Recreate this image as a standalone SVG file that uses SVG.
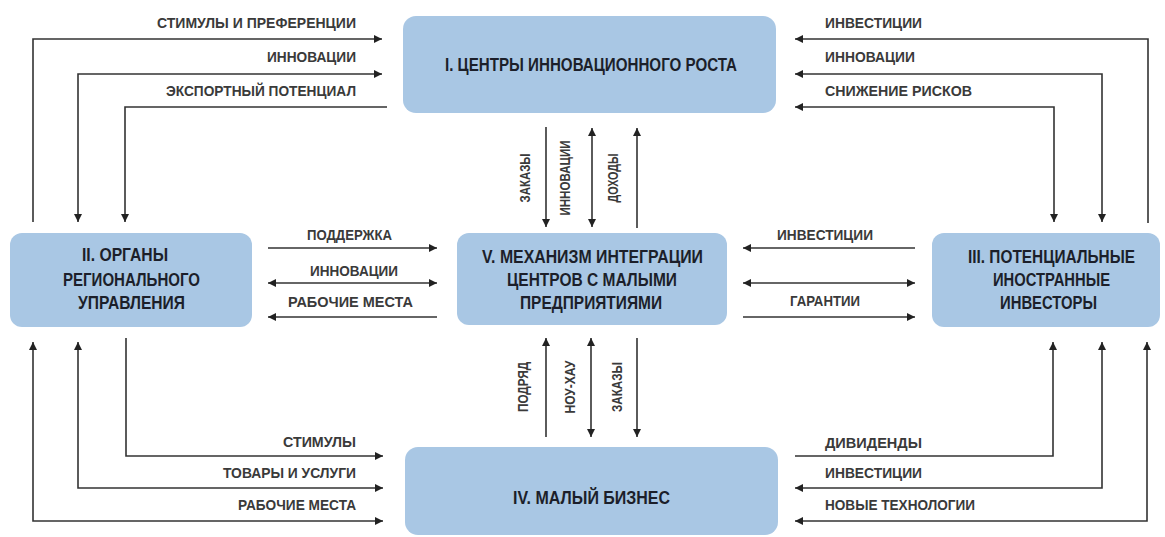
<svg xmlns="http://www.w3.org/2000/svg" width="1165" height="537" viewBox="0 0 1165 537">
<style>
.node{fill:#a9c7e4;stroke:none}
.nt{font-family:"Liberation Sans Narrow","Liberation Sans",Arial,sans-serif;font-weight:bold;font-size:17.5px;fill:#1c1f2a}
.lb{font-family:"Liberation Sans Narrow","Liberation Sans",Arial,sans-serif;font-weight:bold;font-size:14.5px;fill:#3a3a3a}
.c{fill:none;stroke:#333;stroke-width:1.6}
</style>
<defs>
<marker id="ah" viewBox="0 0 10 10" refX="10" refY="5" markerWidth="9" markerHeight="8" markerUnits="userSpaceOnUse" orient="auto-start-reverse">
<path d="M0,0 L10,5 L0,10 z" fill="#222"/>
</marker>
</defs>
<rect width="1165" height="537" fill="#ffffff"/>
<g id="connectors">
<path class="c" d="M33,222 V39 H382" marker-end="url(#ah)"/>
<path class="c" d="M78,222 V74 H382" marker-start="url(#ah)" marker-end="url(#ah)"/>
<path class="c" d="M387,107 H125 V222" marker-end="url(#ah)"/>
<path class="c" d="M1148,223 V39 H795" marker-end="url(#ah)"/>
<path class="c" d="M1102,222 V74 H795" marker-start="url(#ah)" marker-end="url(#ah)"/>
<path class="c" d="M1054,222 V107 H795" marker-start="url(#ah)" marker-end="url(#ah)"/>
<path class="c" d="M268,248 H437" marker-end="url(#ah)"/>
<path class="c" d="M268,283 H437" marker-start="url(#ah)" marker-end="url(#ah)"/>
<path class="c" d="M437,317 H268" marker-end="url(#ah)"/>
<path class="c" d="M915,248 H743" marker-end="url(#ah)"/>
<path class="c" d="M743,283 H915" marker-start="url(#ah)" marker-end="url(#ah)"/>
<path class="c" d="M743,317 H915" marker-end="url(#ah)"/>
<path class="c" d="M546,127 V227" marker-end="url(#ah)"/>
<path class="c" d="M592,128 V227" marker-start="url(#ah)" marker-end="url(#ah)"/>
<path class="c" d="M637,228 V128" marker-end="url(#ah)"/>
<path class="c" d="M546,437 V338" marker-end="url(#ah)"/>
<path class="c" d="M591,338 V437" marker-start="url(#ah)" marker-end="url(#ah)"/>
<path class="c" d="M637,338 V437" marker-end="url(#ah)"/>
<path class="c" d="M126,338 V456 H383" marker-end="url(#ah)"/>
<path class="c" d="M78,342 V488 H383" marker-start="url(#ah)" marker-end="url(#ah)"/>
<path class="c" d="M33,342 V521 H383" marker-start="url(#ah)" marker-end="url(#ah)"/>
<path class="c" d="M795,456 H1053 V342" marker-end="url(#ah)"/>
<path class="c" d="M795,488 H1102 V342" marker-start="url(#ah)" marker-end="url(#ah)"/>
<path class="c" d="M795,521 H1147 V342" marker-start="url(#ah)" marker-end="url(#ah)"/>
</g>
<g id="labels">
<text class="lb" x="157" y="28" textLength="199" lengthAdjust="spacingAndGlyphs">СТИМУЛЫ И ПРЕФЕРЕНЦИИ</text>
<text class="lb" x="267" y="62" textLength="89" lengthAdjust="spacingAndGlyphs">ИННОВАЦИИ</text>
<text class="lb" x="166" y="96" textLength="190" lengthAdjust="spacingAndGlyphs">ЭКСПОРТНЫЙ ПОТЕНЦИАЛ</text>
<text class="lb" x="825" y="28" textLength="97" lengthAdjust="spacingAndGlyphs">ИНВЕСТИЦИИ</text>
<text class="lb" x="825" y="62" textLength="90" lengthAdjust="spacingAndGlyphs">ИННОВАЦИИ</text>
<text class="lb" x="825" y="96" textLength="147" lengthAdjust="spacingAndGlyphs">СНИЖЕНИЕ РИСКОВ</text>
<text class="lb" x="307" y="240" textLength="85" lengthAdjust="spacingAndGlyphs">ПОДДЕРЖКА</text>
<text class="lb" x="310" y="276" textLength="88" lengthAdjust="spacingAndGlyphs">ИННОВАЦИИ</text>
<text class="lb" x="288" y="307" textLength="125" lengthAdjust="spacingAndGlyphs">РАБОЧИЕ МЕСТА</text>
<text class="lb" x="777" y="240" textLength="96" lengthAdjust="spacingAndGlyphs">ИНВЕСТИЦИИ</text>
<text class="lb" x="790" y="306" textLength="70" lengthAdjust="spacingAndGlyphs">ГАРАНТИИ</text>
<text class="lb" x="283" y="447" textLength="73" lengthAdjust="spacingAndGlyphs">СТИМУЛЫ</text>
<text class="lb" x="223" y="478" textLength="133" lengthAdjust="spacingAndGlyphs">ТОВАРЫ И УСЛУГИ</text>
<text class="lb" x="238" y="510" textLength="118" lengthAdjust="spacingAndGlyphs">РАБОЧИЕ МЕСТА</text>
<text class="lb" x="825" y="448" textLength="97" lengthAdjust="spacingAndGlyphs">ДИВИДЕНДЫ</text>
<text class="lb" x="825" y="478" textLength="97" lengthAdjust="spacingAndGlyphs">ИНВЕСТИЦИИ</text>
<text class="lb" x="825" y="510" textLength="150" lengthAdjust="spacingAndGlyphs">НОВЫЕ ТЕХНОЛОГИИ</text>
<text class="lb" transform="translate(525,178) rotate(-90)" x="-24.5" y="5" textLength="49" lengthAdjust="spacingAndGlyphs">ЗАКАЗЫ</text>
<text class="lb" transform="translate(565,178) rotate(-90)" x="-37.5" y="5" textLength="75" lengthAdjust="spacingAndGlyphs">ИННОВАЦИИ</text>
<text class="lb" transform="translate(613,178) rotate(-90)" x="-24.5" y="5" textLength="49" lengthAdjust="spacingAndGlyphs">ДОХОДЫ</text>
<text class="lb" transform="translate(523,387) rotate(-90)" x="-25" y="5" textLength="50" lengthAdjust="spacingAndGlyphs">ПОДРЯД</text>
<text class="lb" transform="translate(570,387) rotate(-90)" x="-26.5" y="5" textLength="53" lengthAdjust="spacingAndGlyphs">НОУ-ХАУ</text>
<text class="lb" transform="translate(617,387) rotate(-90)" x="-25" y="5" textLength="50" lengthAdjust="spacingAndGlyphs">ЗАКАЗЫ</text>
</g>
<g id="node1">
<rect class="node" x="403" y="16" width="373" height="97" rx="13"/>
<text class="nt" x="445" y="71" textLength="292" lengthAdjust="spacingAndGlyphs">I. ЦЕНТРЫ ИННОВАЦИОННОГО РОСТА</text>
</g>
<g id="node2">
<rect class="node" x="10" y="233" width="242" height="94" rx="12"/>
<text class="nt" x="82" y="261" textLength="86" lengthAdjust="spacingAndGlyphs">II. ОРГАНЫ</text>
<text class="nt" x="63" y="286" textLength="137" lengthAdjust="spacingAndGlyphs">РЕГИОНАЛЬНОГО</text>
<text class="nt" x="78" y="309" textLength="107" lengthAdjust="spacingAndGlyphs">УПРАВЛЕНИЯ</text>
</g>
<g id="node5">
<rect class="node" x="457" y="233" width="270" height="92" rx="12"/>
<text class="nt" x="482" y="263" textLength="221" lengthAdjust="spacingAndGlyphs">V. МЕХАНИЗМ ИНТЕГРАЦИИ</text>
<text class="nt" x="507" y="286" textLength="170" lengthAdjust="spacingAndGlyphs">ЦЕНТРОВ С МАЛЫМИ</text>
<text class="nt" x="520" y="309" textLength="142" lengthAdjust="spacingAndGlyphs">ПРЕДПРИЯТИЯМИ</text>
</g>
<g id="node3">
<rect class="node" x="932" y="233" width="228" height="94" rx="12"/>
<text class="nt" x="968" y="263" textLength="167" lengthAdjust="spacingAndGlyphs">III. ПОТЕНЦИАЛЬНЫЕ</text>
<text class="nt" x="993" y="286" textLength="117" lengthAdjust="spacingAndGlyphs">ИНОСТРАННЫЕ</text>
<text class="nt" x="1000" y="309" textLength="97" lengthAdjust="spacingAndGlyphs">ИНВЕСТОРЫ</text>
</g>
<g id="node4">
<rect class="node" x="405" y="447" width="373" height="88" rx="13"/>
<text class="nt" x="513" y="504" textLength="157" lengthAdjust="spacingAndGlyphs">IV. МАЛЫЙ БИЗНЕС</text>
</g>
</svg>
